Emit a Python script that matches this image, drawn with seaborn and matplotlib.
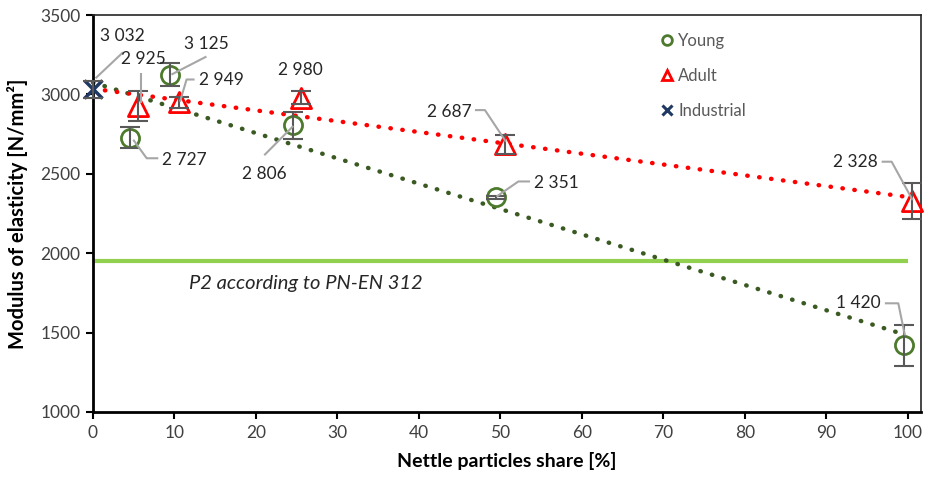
import numpy as np
import pandas as pd
import matplotlib
matplotlib.use("Agg")
import matplotlib.pyplot as plt
from matplotlib.lines import Line2D
import seaborn as sns

# ---- data ----
share = [5, 10, 25, 50, 100]
young_x = [4.5, 9.5, 24.5, 49.5, 99.5]
young_moe = [2727, 3125, 2806, 2351, 1420]
young_sd = [66, 75, 84, 10, 129]
adult_x = [5.5, 10.5, 25.5, 50.5, 100.5]
adult_moe = [2925, 2949, 2980, 2687, 2328]
adult_sd = [95, 35, 43, 60, 111]
industrial_x = [0]
industrial_moe = [3032]
industrial_sd = [55]
p2_limit = 1950
p2_label = "P2 according to PN-EN 312"

x_ticks = list(range(0, 101, 10))
y_ticks = list(range(1000, 3501, 500))

# ---- style ----
sns.set_style("white")
plt.rcParams["font.family"] = ["Lato", "DejaVu Sans"]

C_YOUNG = "#4E7A2E"
C_YOUNG_TREND = "#3A5A22"
C_ADULT = "#FF0000"
C_IND = "#1F3864"
C_ERR = "#595959"
C_LEAD = "#A6A6A6"
C_TXT = "#404040"

fig = plt.figure(figsize=(9.25, 4.79), dpi=100)
ax = fig.add_axes([93 / 925, 1 - 412 / 479, (921 - 93) / 925, (412 - 15) / 479])
ax.set_xlim(0, 101.6)
ax.set_ylim(1000, 3500)

# P2 requirement line
ax.hlines(p2_limit, 0, 100, color="#92D050", lw=3, zorder=1)
ax.text(11.8, 1812, p2_label, style="italic", fontsize=14.5, color="#262626",
        va="center", ha="left")

# linear trends (industrial board included as the 0 % reference)
for xs, ys, col in [(young_x, young_moe, C_YOUNG_TREND), (adult_x, adult_moe, C_ADULT)]:
    fx = np.array(industrial_x + xs, dtype=float)
    fy = np.array(industrial_moe + ys, dtype=float)
    k, b = np.polyfit(fx, fy, 1)
    tx = np.linspace(0, fx.max(), 50)
    trend = pd.DataFrame({"x": tx, "y": k * tx + b})
    sns.lineplot(data=trend, x="x", y="y", ax=ax, color=col, lw=3.2,
                 linestyle=(0, (0.1, 2.6)), dash_capstyle="round", zorder=2,
                 legend=False)

# markers
young_df = pd.DataFrame({"x": young_x, "y": young_moe})
adult_df = pd.DataFrame({"x": adult_x, "y": adult_moe})
ind_df = pd.DataFrame({"x": industrial_x, "y": industrial_moe})
sns.scatterplot(data=young_df, x="x", y="y", ax=ax, marker="o", s=170,
                facecolor="white", edgecolor=C_YOUNG, linewidth=2, zorder=3)
sns.scatterplot(data=adult_df, x="x", y="y", ax=ax, marker="^", s=210,
                facecolor="white", edgecolor=C_ADULT, linewidth=2, zorder=3)
sns.scatterplot(data=ind_df, x="x", y="y", ax=ax, marker="x", s=170,
                color=C_IND, linewidth=2.5, zorder=3)

# error bars
for xs, ys, sd in [(young_x, young_moe, young_sd), (adult_x, adult_moe, adult_sd),
                   (industrial_x, industrial_moe, industrial_sd)]:
    ax.errorbar(xs, ys, yerr=sd, fmt="none", ecolor=C_ERR, elinewidth=1.5,
                capsize=7, capthick=1.5, zorder=4)

# let marks on the plot edge overhang the axes frame
for art in ax.collections + ax.lines:
    art.set_clip_on(False)

# value labels with leader lines; offsets in pixels from the mark
sx = ax.transData.transform((1, 0))[0] - ax.transData.transform((0, 0))[0]
sy = ax.transData.transform((0, 1))[1] - ax.transData.transform((0, 0))[1]

label_layout = [
    (industrial_x[0], industrial_moe[0], (29, 53), [(2.5, 11), (30, 37)]),
    (adult_x[0], adult_moe[0], (5.5, 47), [(3, 3), (3, 33)]),
    (young_x[1], young_moe[1], (36, 31), [(1, 0), (36, 18)]),
    (adult_x[1], adult_moe[1], (43, 22.5), [(1.4, 0.8), (8, 23), (16, 23)]),
    (young_x[0], young_moe[0], (55, -22), [(3.6, -2), (17, -20.5), (28.6, -20.5)]),
    (young_x[2], young_moe[2], (-28, -49), [(0.6, -0.8), (-28.4, -30)]),
    (adult_x[2], adult_moe[2], (0, 28), []),
    (adult_x[3], adult_moe[3], (-55, 32), [(-29.6, 34), (-19.6, 34), (1.4, 2.4)]),
    (young_x[3], young_moe[3], (60, 14), [(0, 0.8), (22, 16), (33.6, 16)]),
    (adult_x[4], adult_moe[4], (-57, 39), [(-30.4, 39.4), (-20.4, 39.4), (0.6, 1)]),
    (young_x[4], young_moe[4], (-45.6, 42), [(-19, 42), (-5.6, 42), (1, 10)]),
]
for x0, y0, (tdx, tdy), lead in label_layout:
    txt = f"{y0:,}".replace(",", " ")
    ax.text(x0 + tdx / sx, y0 + tdy / sy, txt, fontsize=12.5, color="#262626",
            ha="center", va="center", zorder=6)
    if lead:
        lx = [x0 + dx / sx for dx, dy in lead]
        ly = [y0 + dy / sy for dx, dy in lead]
        ax.plot(lx, ly, color=C_LEAD, lw=1.5, zorder=5, solid_capstyle="butt")

# axes
ax.set_xticks(x_ticks)
ax.set_yticks(y_ticks)
ax.tick_params(axis="both", which="major", labelsize=12.5, labelcolor=C_TXT,
               direction="out", length=5, width=1.5, color="black",
               left=True, bottom=True, pad=4)
for side in ["left", "bottom"]:
    ax.spines[side].set_linewidth(2)
    ax.spines[side].set_color("black")
for side in ["top", "right"]:
    ax.spines[side].set_linewidth(1.2)
    ax.spines[side].set_color("#262626")
ax.set_xlabel("Nettle particles share [%]", fontsize=14, fontweight="bold",
              color="black", labelpad=8)
ax.set_ylabel("Modulus of elasticity [N/mm²]", fontsize=14.5, fontweight="bold",
              color="black", labelpad=9)

# legend
handles = [
    Line2D([], [], ls="none", marker="o", ms=7, mfc="white", mec=C_YOUNG, mew=2),
    Line2D([], [], ls="none", marker="^", ms=7.5, mfc="white", mec=C_ADULT, mew=2),
    Line2D([], [], ls="none", marker="x", ms=7, mec=C_IND, mew=2.2),
]
ax.legend(handles, ["Young", "Adult", "Industrial"], loc="upper left",
          bbox_to_anchor=(660 / 925, 1 - 33 / 479), bbox_transform=fig.transFigure,
          frameon=False, fontsize=12, labelcolor="#595959", handlelength=0.8,
          handletextpad=0.3, labelspacing=1.15, borderpad=0, borderaxespad=0)

fig.savefig("out.png", dpi=100)
